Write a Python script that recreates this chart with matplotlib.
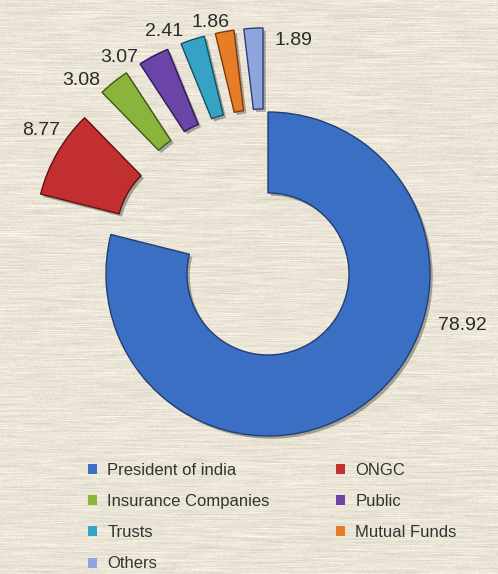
import matplotlib.pyplot as plt
import matplotlib.patheffects as pe
from matplotlib.patches import Patch
import numpy as np

holders = ['President of india', 'ONGC', 'Insurance Companies', 'Public',
           'Trusts', 'Mutual Funds', 'Others']
stake = [78.92, 8.77, 3.08, 3.07, 2.41, 1.86, 1.89]

colors = ['#3a6fc4', '#c12f30', '#8ab43c', '#6a44a6', '#36a3c6', '#e77d27', '#8ea6dc']
edges = ['#223f74', '#5e1214', '#3f5a14', '#2e1a55', '#155063', '#7a3a0c', '#2b3f78']
explode = [0, 0.5, 0.52, 0.52, 0.52, 0.52, 0.52]

# label placement: angle offset from wedge middle (deg), distance from centre
lab_dang = [37.3, -2.4, 5.2, 6.9, 5.4, 2.8, -9.5]
lab_dist = [1.24, 1.66, 1.66, 1.62, 1.63, 1.59, 1.45]

W, H = 498, 574
R = 162.0            # pixels per unit radius
cx, cy = 268, 274    # donut centre in pixels (from top-left)

fig = plt.figure(figsize=(W / 100, H / 100), dpi=100)

# textured paper background
bg = fig.add_axes([0, 0, 1, 1], zorder=0)
bg.axis('off')
rng = np.random.default_rng(3)
noise = rng.normal(0, 1, (H, W + 60))
k = np.ones(31) / 31
streak = np.array([np.convolve(r, k, mode='same') for r in noise])[:, 30:30 + W]
streak = streak / streak.std()
fine = rng.normal(0, 1, (H, W))
base = np.array([234, 229, 214]) / 255.0
tex = base[None, None, :] + (streak * 0.022 + fine * 0.012)[:, :, None]
bg.imshow(np.clip(tex, 0, 1), aspect='auto', extent=(0, 1, 0, 1))
bg.set_xlim(0, 1); bg.set_ylim(0, 1)

ax = fig.add_axes([0, 0, 1, 1], zorder=1)
ax.patch.set_alpha(0)
wedges, _ = ax.pie(stake, explode=explode, colors=colors, startangle=90,
                   counterclock=False, radius=1.0,
                   wedgeprops=dict(width=0.5, linewidth=1.0))
for w, ec in zip(wedges, edges):
    w.set_edgecolor(ec)
    w.set_path_effects([pe.SimplePatchShadow(offset=(2, -2), shadow_rgbFace='k', alpha=0.3),
                        pe.Normal()])

for w, val, da, d in zip(wedges, stake, lab_dang, lab_dist):
    a = np.deg2rad((w.theta1 + w.theta2) / 2 + da)
    ax.text(d * np.cos(a), d * np.sin(a), f'{val:.2f}', ha='center', va='center',
            fontsize=14, color='#2a2a2a', family='Liberation Sans')

ax.set_xlim(-cx / R, (W - cx) / R)
ax.set_ylim(-(H - cy) / R, cy / R)
ax.axis('off')

# legend laid out row by row: fill columns in the right order
order = [0, 2, 4, 6, 1, 3, 5]
handles = [Patch(facecolor=colors[i], edgecolor='none') for i in order]
labels = [holders[i] for i in order]
fig.legend(handles, labels, ncol=2, loc='upper left',
           bbox_to_anchor=(88 / W, 1 - 463 / H), frameon=False,
           prop=dict(family='Liberation Sans', size=12), labelcolor='#333333',
           handlelength=0.55, handleheight=0.55, handletextpad=0.6,
           labelspacing=0.97, columnspacing=4.0, borderpad=0, borderaxespad=0)

fig.savefig('out.png', dpi=100)
